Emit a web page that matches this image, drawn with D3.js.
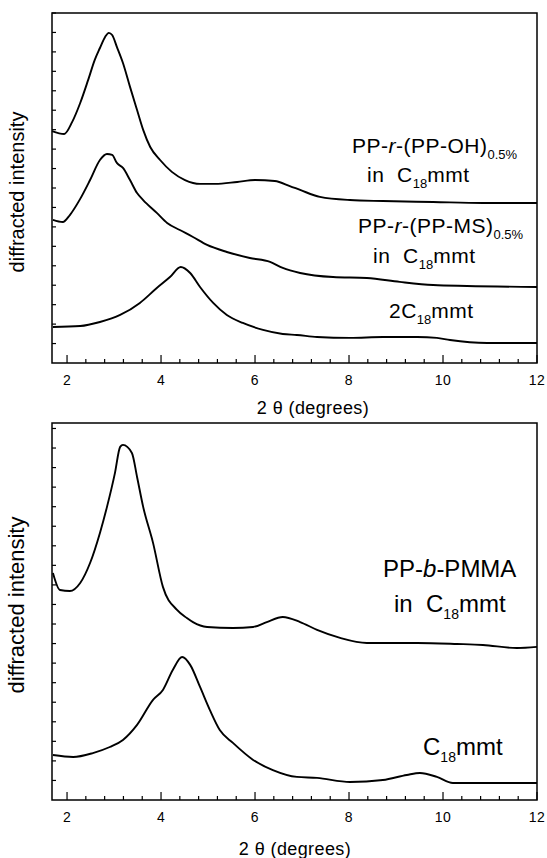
<html>
<head>
<title>XRD patterns</title>
<script src="https://d3js.org/d3.v7.min.js"></script>
<style>
    body { margin: 0; background: #fff; }
    text { font-family: "Liberation Sans", Arial, sans-serif; fill: #000; }
    .frame { fill: none; stroke: #000; stroke-width: 1.5; }
    .trace { fill: none; stroke: #000; stroke-width: 1.9; stroke-linejoin: round; }
</style>
</head>
<body>
<div id="chart"></div>
<script>
// tick labels on the 2 theta axis
var xTickLabels = [2, 4, 6, 8, 10, 12];

// top panel: PP-r-(PP-OH) in C18mmt
var ohTheta = [1.68, 1.94, 2.11, 2.28, 2.45, 2.59, 2.70, 2.81, 2.89, 2.96, 3.06, 3.19, 3.34, 3.49, 3.62, 3.77, 3.98, 4.23, 4.51, 4.83, 5.15, 5.62, 6.00, 6.42, 6.74, 6.96, 7.38, 8.02, 8.72, 9.79, 10.85, 12.0];
var ohInt   = [11.93, 11.78, 12.40, 13.37, 14.56, 15.59, 16.20, 16.77, 16.98, 16.87, 16.26, 15.43, 14.20, 13.01, 11.99, 11.11, 10.44, 9.83, 9.41, 9.21, 9.21, 9.31, 9.41, 9.36, 9.10, 8.90, 8.54, 8.38, 8.33, 8.28, 8.23, 8.23];

// top panel: PP-r-(PP-MS) in C18mmt
var msTheta = [1.70, 1.91, 2.06, 2.28, 2.49, 2.70, 2.85, 2.96, 3.06, 3.19, 3.34, 3.49, 3.62, 3.91, 4.13, 4.40, 4.68, 4.98, 5.40, 5.89, 6.32, 6.59, 6.96, 7.66, 8.38, 9.08, 9.79, 10.51, 12.0];
var msInt   = [7.36, 7.25, 7.61, 8.44, 9.41, 10.44, 10.75, 10.70, 10.29, 10.03, 9.41, 8.74, 8.38, 7.72, 7.20, 6.84, 6.48, 6.07, 5.71, 5.40, 5.20, 4.89, 4.63, 4.42, 4.37, 4.17, 4.01, 3.96, 3.91];

// top panel: 2C18mmt
var c2Theta = [1.70, 2.28, 2.70, 3.13, 3.55, 3.91, 4.19, 4.42, 4.62, 4.83, 5.11, 5.40, 5.74, 6.17, 6.59, 6.89, 7.32, 8.02, 8.72, 9.45, 9.87, 10.15, 10.94, 12.0];
var c2Int   = [1.85, 1.90, 2.11, 2.47, 3.09, 3.86, 4.42, 4.94, 4.63, 3.91, 3.09, 2.47, 2.06, 1.70, 1.49, 1.44, 1.34, 1.29, 1.34, 1.34, 1.29, 1.18, 1.03, 1.03];

// bottom panel: PP-b-PMMA in C18mmt
var pmTheta = [1.70, 1.85, 2.06, 2.28, 2.49, 2.70, 2.85, 3.02, 3.13, 3.19, 3.38, 3.49, 3.62, 3.83, 4.04, 4.34, 4.55, 4.68, 4.98, 5.53, 5.96, 6.25, 6.59, 6.96, 7.32, 7.81, 8.38, 9.45, 10.30, 10.85, 11.57, 12.0];
var pmInt   = [11.61, 10.74, 10.69, 11.10, 12.12, 13.66, 14.99, 16.73, 18.06, 18.16, 17.75, 16.52, 14.99, 13.15, 10.90, 9.72, 9.31, 9.10, 8.85, 8.80, 8.85, 9.10, 9.36, 9.10, 8.70, 8.29, 8.03, 8.03, 7.98, 7.93, 7.77, 7.83];

// bottom panel: C18mmt
var c1Theta = [1.70, 2.13, 2.55, 2.91, 3.19, 3.49, 3.83, 4.04, 4.25, 4.45, 4.62, 4.83, 5.04, 5.25, 5.53, 5.96, 6.38, 6.89, 7.32, 8.02, 8.72, 9.23, 9.51, 9.87, 10.21, 12.0];
var c1Int   = [2.30, 2.20, 2.40, 2.71, 3.07, 3.84, 5.12, 5.63, 6.65, 7.31, 6.91, 5.78, 4.60, 3.58, 2.92, 2.05, 1.53, 1.18, 1.13, 0.92, 1.02, 1.28, 1.38, 1.18, 0.87, 0.87];

var width = 547, height = 858;
var left = 52, right = 537;

var svg = d3.select("#chart").append("svg")
    .attr("width", width)
    .attr("height", height);

var x = d3.scaleLinear().domain([1.68, 12]).range([left, right]);

function zip(xs, ys) {
    return xs.map(function(d, i) { return [d, ys[i]]; });
}

// draws one frame with its ticks and traces
function drawPanel(p) {
    var y = d3.scaleLinear().domain([0, p.ymax]).range([p.bottom, p.top]);
    var g = svg.append("g");

    // minor + major ticks on the bottom axis, pointing inward
    var xt = d3.range(0, 26).map(function(i) { return { v: 2 + i * 0.4, major: i % 5 === 0 }; });
    g.selectAll(".xtick").data(xt).enter().append("line")
        .attr("class", "xtick")
        .attr("x1", function(d) { return x(d.v); })
        .attr("x2", function(d) { return x(d.v); })
        .attr("y1", p.bottom)
        .attr("y2", function(d) { return p.bottom - (d.major ? 8 : 4); })
        .attr("stroke", "#000").attr("stroke-width", 1.2);

    // little ticks on the intensity axis
    g.selectAll(".ytick").data(d3.range(1, Math.floor(p.ymax) + 1)).enter().append("line")
        .attr("class", "ytick")
        .attr("x1", left).attr("x2", left + 4)
        .attr("y1", function(d) { return y(d); })
        .attr("y2", function(d) { return y(d); })
        .attr("stroke", "#000").attr("stroke-width", 1.2);

    g.selectAll(".xlab").data(xTickLabels).enter().append("text")
        .attr("x", function(d) { return x(d); })
        .attr("y", p.bottom + 22)
        .attr("text-anchor", "middle")
        .style("font-size", "14px")
        .style("letter-spacing", "0.5px")
        .text(function(d) { return d; });

    var line = d3.line()
        .curve(d3.curveMonotoneX)
        .x(function(d) { return x(d[0]); })
        .y(function(d) { return y(d[1]); });

    p.series.forEach(function(s) {
        g.append("path").attr("class", "trace").attr("d", line(s));
    });

    g.append("rect").attr("class", "frame")
        .attr("x", left).attr("y", p.top)
        .attr("width", right - left).attr("height", p.bottom - p.top);

    g.append("text")
        .attr("transform", "translate(" + 24 + "," + p.ylabY + ") rotate(-90)")
        .attr("text-anchor", "middle")
        .style("font-size", p.ylabSize + "px")
        .text("diffracted intensity");

    g.append("text")
        .attr("x", p.xlabX).attr("y", p.xlabY)
        .attr("text-anchor", "middle")
        .style("font-size", "18px")
        .style("letter-spacing", "0.4px")
        .text("2 \u03b8 (degrees)");

    p.notes.forEach(function(n) {
        var t = g.append("text").attr("x", n.x).attr("y", n.y)
            .style("font-size", p.noteSize + "px")
            .style("letter-spacing", p.noteSpacing + "px")
            .style("white-space", "pre");
        var shifted = 0;
        n.parts.forEach(function(part) {
            var ts = t.append("tspan").text(part.t);
            if (part.sub) {
                ts.attr("dy", p.subDy).style("font-size", p.subSize + "px").style("letter-spacing", "0px");
                shifted = p.subDy;
            } else if (shifted) {
                ts.attr("dy", -shifted);
                shifted = 0;
            }
            if (part.i) ts.style("font-style", "italic");
        });
    });
}

drawPanel({
    top: 13, bottom: 363, ymax: 18,
    series: [zip(ohTheta, ohInt), zip(msTheta, msInt), zip(c2Theta, c2Int)],
    ylabY: 192, ylabSize: 20,
    xlabX: 313, xlabY: 414,
    noteSize: 21, noteSpacing: 0.5, subSize: 13, subDy: 6,
    notes: [
        { x: 352, y: 153, parts: [{ t: "PP-" }, { t: "r", i: true }, { t: "-(PP-OH)" }, { t: "0.5%", sub: true }] },
        { x: 367, y: 182, parts: [{ t: "in  C" }, { t: "18", sub: true }, { t: "mmt" }] },
        { x: 358, y: 233, parts: [{ t: "PP-" }, { t: "r", i: true }, { t: "-(PP-MS)" }, { t: "0.5%", sub: true }] },
        { x: 373, y: 263, parts: [{ t: "in  C" }, { t: "18", sub: true }, { t: "mmt" }] },
        { x: 389, y: 318, parts: [{ t: "2C" }, { t: "18", sub: true }, { t: "mmt" }] }
    ]
});

drawPanel({
    top: 423, bottom: 800, ymax: 19.28,
    series: [zip(pmTheta, pmInt), zip(c1Theta, c1Int)],
    ylabY: 605, ylabSize: 22,
    xlabX: 295, xlabY: 855,
    noteSize: 24, noteSpacing: 0, subSize: 14, subDy: 7,
    notes: [
        { x: 383, y: 577, parts: [{ t: "PP-" }, { t: "b", i: true }, { t: "-PMMA" }] },
        { x: 394, y: 612, parts: [{ t: "in  C" }, { t: "18", sub: true }, { t: "mmt" }] },
        { x: 423, y: 755, parts: [{ t: "C" }, { t: "18", sub: true }, { t: "mmt" }] }
    ]
});
</script>
</body>
</html>
